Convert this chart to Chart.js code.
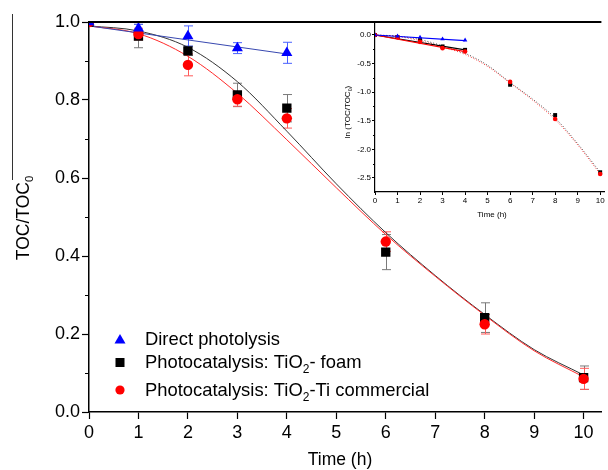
<!DOCTYPE html>
<html>
<head>
<meta charset="utf-8">
<script src="https://cdn.jsdelivr.net/npm/chart.js@4.4.1/dist/chart.umd.min.js"></script>
<style>
body { margin: 0; background: #fff; }
#wrap { position: relative; width: 608px; height: 470px; }
#mainChart { position: absolute; left: 0; top: 0; }
#insetChart { position: absolute; left: 300px; top: 0; }
</style>
</head>
<body>
<div id="wrap">
<canvas id="mainChart" width="608" height="470"></canvas>
<canvas id="insetChart" width="308" height="230"></canvas>
</div>
<script>
// measured points, TOC/TOC0
var timeAll = [0, 1, 2, 3, 4, 6, 8, 10];
var timePhoto = [0, 1, 2, 3, 4];
var photolysis = [1.0, 0.984, 0.964, 0.933, 0.921];
var photolysisErr = [0, 0.01, 0.026, 0.014, 0.027];
var foam = [1.0, 0.964, 0.926, 0.813, 0.779, 0.41, 0.242, 0.088];
var foamErr = [0, 0.03, 0.012, 0.03, 0.035, 0.045, 0.038, 0.03];
var commercial = [1.0, 0.969, 0.89, 0.802, 0.753, 0.437, 0.225, 0.085];
var commercialErr = [0, 0.015, 0.028, 0.018, 0.025, 0.025, 0.025, 0.027];

// fitted curves
var fitTime = [0, 1, 2, 3, 4, 5, 6, 7, 8, 9, 10];
var foamFit = [0.99, 0.977, 0.935, 0.847, 0.72, 0.585, 0.46, 0.35, 0.25, 0.16, 0.095];
var commercialFit = [0.99, 0.97, 0.912, 0.817, 0.698, 0.575, 0.455, 0.348, 0.248, 0.157, 0.09];
var photoFitTime = [0, 4];
var photolysisFit = [0.99, 0.918];

// inset: ln(TOC/TOC0)
var lnPhoto = [0, -0.02, -0.04, -0.07, -0.09];
var lnFoam = [0, -0.035, -0.09, -0.2, -0.26, -0.87, -1.4, -2.4];
var lnCommercial = [0, -0.04, -0.12, -0.23, -0.29, -0.82, -1.47, -2.43];
var lnLineTime = [0, 4];
var lnPhotoLine = [0, -0.1];
var lnFoamLine = [0, -0.26];
var lnCommercialLine = [0, -0.29];
var lnFoamCurve = [0, -0.02, -0.08, -0.19, -0.32, -0.53, -0.83, -1.12, -1.45, -1.9, -2.4];
var lnCommercialCurve = [0, -0.025, -0.1, -0.21, -0.34, -0.55, -0.84, -1.14, -1.48, -1.92, -2.43];

var minorTicksMain = [0.1, 0.3, 0.5, 0.7, 0.9];
var minorTicksInset = [-0.25, -0.75, -1.25, -1.75, -2.25];
var legendText = ['Direct photolysis', 'Photocatalysis: TiO_2- foam', 'Photocatalysis: TiO_2-Ti commercial'];

var FONT = '"Liberation Sans", Arial, sans-serif';

function pts(xs, ys) {
    return xs.map(function (x, i) { return { x: x, y: ys[i] }; });
}

// text with "_x" meaning subscript x
function drawSubText(ctx, text, x, y, size, align) {
    var parts = [];
    text.split('_').forEach(function (p, i) {
        if (i === 0) { parts.push([p, false]); return; }
        parts.push([p.charAt(0), true]);
        parts.push([p.slice(1), false]);
    });
    var total = 0;
    parts.forEach(function (p) {
        ctx.font = (p[1] ? size * 0.65 : size) + 'px ' + FONT;
        p.push(ctx.measureText(p[0]).width);
        total += p[2];
    });
    var cx = align === 'center' ? x - total / 2 : x;
    ctx.textAlign = 'left';
    ctx.textBaseline = 'middle';
    parts.forEach(function (p) {
        ctx.font = (p[1] ? size * 0.65 : size) + 'px ' + FONT;
        ctx.fillText(p[0], cx, p[1] ? y + size * 0.35 : y);
        cx += p[2];
    });
}

function drawErrors(ctx, xs, ys, err, xScale, yScale, color, cap) {
    ctx.save();
    ctx.strokeStyle = color;
    ctx.lineWidth = 1;
    xs.forEach(function (t, i) {
        if (!err[i]) return;
        var px = Math.round(xScale.getPixelForValue(t)) + 0.5;
        var top = yScale.getPixelForValue(ys[i] + err[i]);
        var bot = yScale.getPixelForValue(ys[i] - err[i]);
        ctx.beginPath();
        ctx.moveTo(px, top); ctx.lineTo(px, bot);
        ctx.moveTo(px - cap, top); ctx.lineTo(px + cap, top);
        ctx.moveTo(px - cap, bot); ctx.lineTo(px + cap, bot);
        ctx.stroke();
    });
    ctx.restore();
}

function drawMinor(ctx, scale, values, len) {
    ctx.save();
    ctx.strokeStyle = '#000';
    ctx.lineWidth = 1;
    var left = scale.chart.chartArea.left;
    values.forEach(function (v) {
        if (v < scale.min || v > scale.max) return;
        var py = Math.round(scale.getPixelForValue(v)) + 0.5;
        ctx.beginPath();
        ctx.moveTo(left - len, py); ctx.lineTo(left, py);
        ctx.stroke();
    });
    ctx.restore();
}

var mainDecor = {
    id: 'mainDecor',
    beforeDatasetsDraw: function (chart) {
        var ctx = chart.ctx, x = chart.scales.x, y = chart.scales.y;
        drawErrors(ctx, timeAll, foam, foamErr, x, y, '#7a7a7a', 4.5);
        drawErrors(ctx, timeAll, commercial, commercialErr, x, y, '#ff5a5a', 4.5);
        drawErrors(ctx, timePhoto, photolysis, photolysisErr, x, y, '#4a62ff', 4.5);
    },
    afterDraw: function (chart) {
        var ctx = chart.ctx, a = chart.chartArea;
        ctx.save();
        // top frame line
        ctx.strokeStyle = '#000';
        ctx.lineWidth = 2;
        ctx.beginPath();
        ctx.moveTo(a.left - 1, a.top); ctx.lineTo(a.right, a.top);
        ctx.stroke();
        // stray bar left of the y title
        ctx.lineWidth = 1;
        ctx.strokeStyle = '#333';
        ctx.beginPath();
        ctx.moveTo(12.5, 14); ctx.lineTo(12.5, 180);
        ctx.stroke();
        ctx.restore();
        drawMinor(ctx, chart.scales.y, minorTicksMain, 4);

        ctx.save();
        ctx.fillStyle = '#000';
        drawSubText(ctx, 'Time (h)', 340, 460, 17.5, 'center');
        ctx.translate(24, 218);
        ctx.rotate(-Math.PI / 2);
        drawSubText(ctx, 'TOC/TOC_0', 0, 0, 17.5, 'center');
        ctx.restore();

        // legend
        var rows = [340, 363, 391];
        ctx.save();
        ctx.fillStyle = '#0000ff';
        ctx.beginPath();
        ctx.moveTo(120, 334); ctx.lineTo(125.5, 343.5); ctx.lineTo(114.5, 343.5);
        ctx.closePath(); ctx.fill();
        ctx.fillStyle = '#000';
        ctx.fillRect(115.5, 358, 9, 9);
        ctx.fillStyle = '#ff0000';
        ctx.beginPath(); ctx.arc(120, 390, 4.6, 0, Math.PI * 2); ctx.fill();
        ctx.fillStyle = '#000';
        legendText.forEach(function (t, i) {
            drawSubText(ctx, t, 145, rows[i], 18.4, 'left');
        });
        ctx.restore();
    }
};

var mainChart = new Chart(document.getElementById('mainChart').getContext('2d'), {
    type: 'scatter',
    data: {
        datasets: [
            { data: pts(timePhoto, photolysis), pointStyle: 'triangle', pointRadius: 6.4, backgroundColor: '#0000ff', borderColor: '#0000ff', borderWidth: 0, order: 0 },
            { data: pts(timeAll, commercial), pointStyle: 'circle', pointRadius: 5.2, backgroundColor: '#ff0000', borderColor: '#ff0000', borderWidth: 0, order: 1 },
            { data: pts(timeAll, foam), pointStyle: 'rect', pointRadius: 6.6, backgroundColor: '#000', borderColor: '#000', borderWidth: 0, order: 2 },
            { data: pts(photoFitTime, photolysisFit), showLine: true, pointRadius: 0, borderColor: '#3848b0', borderWidth: 1, order: 3 },
            { data: pts(fitTime, commercialFit), showLine: true, pointRadius: 0, borderColor: '#ff2a2a', borderWidth: 1, cubicInterpolationMode: 'monotone', order: 4 },
            { data: pts(fitTime, foamFit), showLine: true, pointRadius: 0, borderColor: '#333', borderWidth: 1, cubicInterpolationMode: 'monotone', order: 5 }
        ]
    },
    options: {
        responsive: false,
        animation: false,
        layout: { padding: { top: 22, right: 0, left: 0, bottom: 0 } },
        plugins: { legend: { display: false }, tooltip: { enabled: false } },
        scales: {
            x: {
                type: 'linear', min: 0, max: 10.36,
                ticks: { stepSize: 1, includeBounds: false, color: '#000', padding: 3, maxRotation: 0, font: { family: FONT, size: 18 } },
                grid: { drawOnChartArea: false, tickLength: 7, color: '#000', tickWidth: 1.2 },
                border: { color: '#000', width: 1.5 },
                afterFit: function (s) { s.height = 58; }
            },
            y: {
                type: 'linear', min: 0, max: 1,
                ticks: { stepSize: 0.2, color: '#000', padding: 2, font: { family: FONT, size: 18 }, callback: function (v) { return v.toFixed(1); } },
                grid: { drawOnChartArea: false, tickLength: 7, color: '#000', tickWidth: 1.2 },
                border: { color: '#000', width: 1.5 },
                afterFit: function (s) { s.width = 89; }
            }
        }
    },
    plugins: [mainDecor]
});

var insetDecor = {
    id: 'insetDecor',
    afterDraw: function (chart) {
        var ctx = chart.ctx;
        drawMinor(ctx, chart.scales.y, minorTicksInset, 2);
        ctx.save();
        ctx.fillStyle = '#000';
        drawSubText(ctx, 'Time (h)', 192, 215, 8, 'center');
        ctx.translate(48, 112);
        ctx.rotate(-Math.PI / 2);
        drawSubText(ctx, 'ln (TOC/TOC_0)', 0, 0, 8, 'center');
        ctx.restore();
    }
};

var insetChart = new Chart(document.getElementById('insetChart').getContext('2d'), {
    type: 'scatter',
    data: {
        datasets: [
            { data: pts(timePhoto, lnPhoto), pointStyle: 'triangle', pointRadius: 2.6, backgroundColor: '#0000ff', borderWidth: 0, order: 0 },
            { data: pts(timeAll, lnCommercial), pointStyle: 'circle', pointRadius: 2.3, backgroundColor: '#ff0000', borderWidth: 0, order: 1 },
            { data: pts(timeAll, lnFoam), pointStyle: 'rect', pointRadius: 2.8, backgroundColor: '#000', borderWidth: 0, order: 2 },
            { data: pts(lnLineTime, lnPhotoLine), showLine: true, pointRadius: 0, borderColor: '#0000ff', borderWidth: 1.2, order: 3 },
            { data: pts(lnLineTime, lnCommercialLine), showLine: true, pointRadius: 0, borderColor: '#ff0000', borderWidth: 1.2, order: 4 },
            { data: pts(lnLineTime, lnFoamLine), showLine: true, pointRadius: 0, borderColor: '#000', borderWidth: 1.2, order: 5 },
            { data: pts(fitTime, lnCommercialCurve), showLine: true, pointRadius: 0, borderColor: '#ff3030', borderWidth: 1, borderDash: [1, 2], cubicInterpolationMode: 'monotone', order: 6 },
            { data: pts(fitTime, lnFoamCurve), showLine: true, pointRadius: 0, borderColor: '#444', borderWidth: 1, borderDash: [1, 2], borderDashOffset: 1, cubicInterpolationMode: 'monotone', order: 7 }
        ]
    },
    options: {
        responsive: false,
        animation: false,
        layout: { padding: { top: 22, right: 0, left: 0, bottom: 0 } },
        plugins: { legend: { display: false }, tooltip: { enabled: false } },
        scales: {
            x: {
                type: 'linear', min: 0, max: 10.17,
                ticks: { stepSize: 1, includeBounds: false, color: '#000', padding: 1, maxRotation: 0, font: { family: FONT, size: 8 } },
                grid: { drawOnChartArea: false, tickLength: 3, color: '#000' },
                border: { color: '#000', width: 1.2 },
                afterFit: function (s) { s.height = 38; }
            },
            y: {
                type: 'linear', min: -2.745, max: 0.227,
                ticks: { stepSize: 0.5, includeBounds: false, color: '#000', padding: 1, font: { family: FONT, size: 8 }, callback: function (v) { return v.toFixed(1); } },
                grid: { drawOnChartArea: false, tickLength: 3, color: '#000' },
                border: { color: '#000', width: 1.2 },
                afterFit: function (s) { s.width = 75; }
            }
        }
    },
    plugins: [insetDecor]
});
</script>
</body>
</html>
